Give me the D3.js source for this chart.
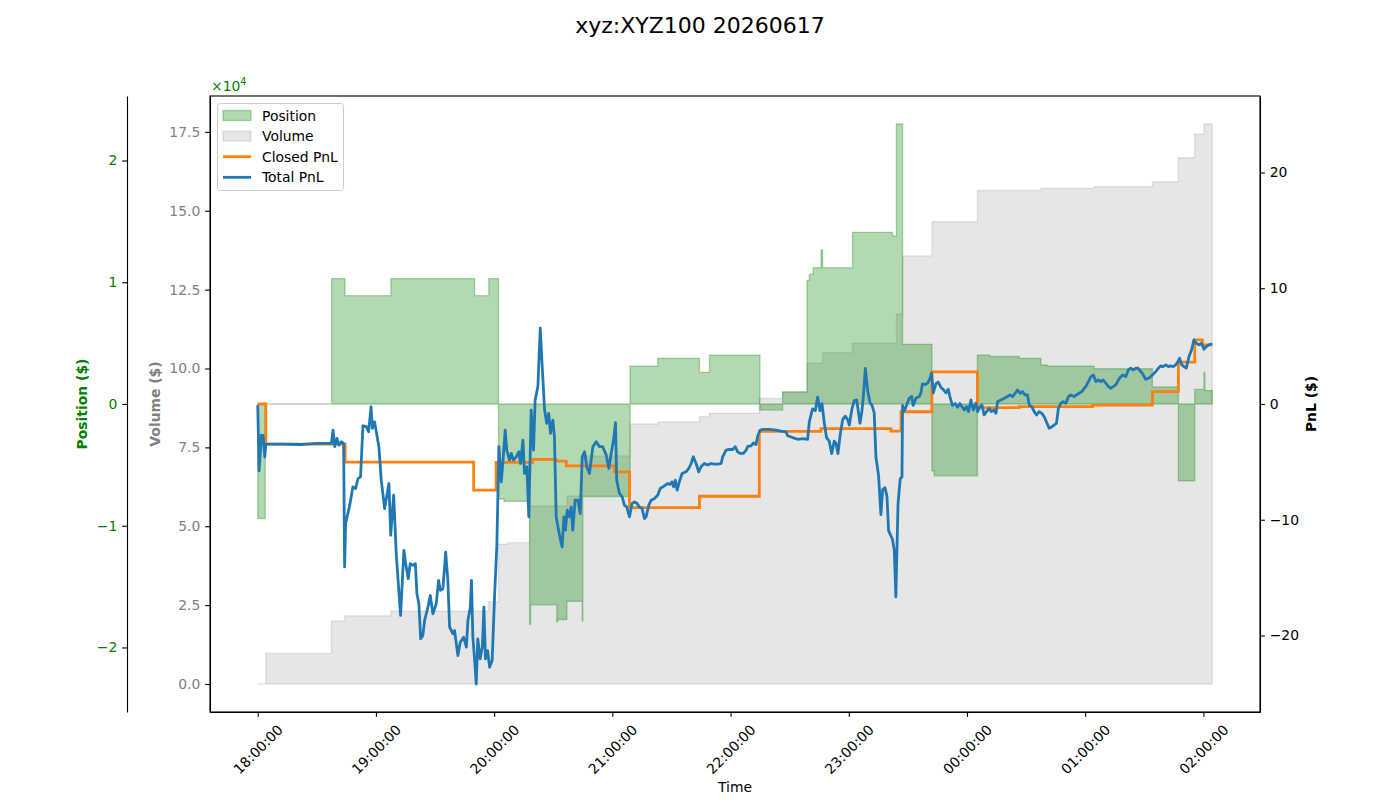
<!DOCTYPE html>
<html>
<head>
<meta charset="utf-8">
<script src="https://cdn.jsdelivr.net/npm/d3@7"></script>
<style>
  body { margin: 0; background: #fff; }
  svg { display: block; font-family: "DejaVu Sans", sans-serif; }
</style>
</head>
<body>
<svg id="chart" width="1400" height="800"></svg>
<script>
// minutes after 18:00 on 2026-06-17
const posMin = [0, 3.8, 37.5, 44.3, 67.6, 110.1, 117.3, 122.2, 125.0, 138.0, 138.5, 151.8, 152.3, 156.9, 164.7, 165.0, 189.0, 203.0, 224.2, 229.3, 254.9, 266.4, 278.8, 280.0, 282.0, 285.9, 286.7, 301.9, 322.2, 324.2, 327.3, 342.2, 343.4, 365.3, 371.8, 386.5, 397.5, 400.8, 424.5, 454.1, 467.3, 475.6, 480.3, 480.7, 484.5];
const posVal = [-9400, 0, 10300, 8900, 10300, 8900, 10300, -7800, -8000, -18100, -16500, -17900, -17700, -16200, -17800, -7600, 3100, 3750, 2600, 4000, -500, 1000, 10150, 10660, 11200, 12650, 11200, 14100, 13800, 23000, 4900, -5500, -5900, 4000, 3900, 3750, 3200, 3100, 2900, 1400, -6300, 1200, 2600, 1100, 1100];

const volMin = [0, 4.1, 37.4, 44.1, 67.6, 117.2, 122.2, 127.0, 138.0, 157.0, 164.7, 189.0, 203.0, 224.2, 229.3, 254.6, 266.4, 278.8, 286.7, 301.9, 324.2, 327.3, 342.2, 365.3, 397.5, 424.5, 454.1, 467.3, 475.6, 480.3, 484.5];
const volVal = [0, 0.97, 2.0, 2.16, 2.31, 2.61, 4.43, 4.48, 5.64, 5.96, 7.23, 8.24, 8.31, 8.47, 8.58, 9.05, 9.25, 10.17, 10.5, 10.8, 11.73, 13.57, 14.65, 15.64, 15.71, 15.76, 15.92, 16.68, 17.43, 17.75, 17.75];

const closedMin = [0, 4.1, 44.4, 109.6, 121.0, 139.6, 151.5, 156.6, 181.1, 188.7, 224.2, 254.6, 285.9, 321.4, 326.5, 342.2, 365.3, 386.5, 423.7, 454.1, 467.3, 475.6, 479.5, 484.5];
const closedVal = [0, -3.46, -5.02, -7.45, -5.05, -4.79, -4.93, -5.34, -5.86, -8.95, -7.97, -2.37, -2.13, -2.34, -0.67, 2.77, -0.32, -0.23, -0.09, 1.07, 3.61, 5.54, 5.11, 5.11];

const totalMin = [0.0, 0.7, 1.9, 2.7, 3.6, 4.1, 12.8, 21.3, 29.8, 37.4, 38.2, 39.1, 40.2, 41.2, 42.4, 43.6, 44.1, 44.6, 46.7, 48.3, 49.7, 50.9, 52.2, 53.4, 55.1, 56.3, 57.5, 58.2, 59.3, 61.5, 62.7, 64.4, 66.6, 67.5, 69.0, 70.3, 72.5, 74.2, 75.1, 76.4, 77.4, 78.8, 80.0, 80.8, 81.8, 82.7, 83.8, 84.7, 86.4, 87.6, 88.9, 90.6, 91.8, 92.7, 94.0, 95.4, 96.5, 97.4, 99.1, 99.9, 101.6, 102.8, 104.5, 105.9, 106.7, 107.9, 108.5, 109.2, 110.1, 110.9, 111.7, 112.9, 114.0, 114.8, 115.6, 116.7, 117.7, 119.0, 120.2, 121.4, 122.4, 123.6, 124.4, 125.6, 126.4, 127.8, 128.7, 129.8, 131.2, 132.5, 133.4, 134.6, 135.4, 136.6, 137.6, 138.8, 140.0, 140.8, 142.2, 143.4, 144.4, 145.6, 146.7, 147.7, 148.6, 149.8, 150.6, 151.5, 152.7, 153.7, 154.5, 155.4, 156.2, 157.1, 158.2, 159.1, 159.9, 161.1, 162.5, 163.7, 164.7, 165.9, 167.0, 168.4, 170.1, 171.8, 173.5, 175.1, 176.9, 178.2, 179.4, 180.6, 181.6, 182.2, 183.6, 185.0, 186.1, 187.3, 188.7, 190.0, 191.2, 192.6, 193.7, 195.1, 196.3, 197.1, 198.5, 199.7, 201.4, 203.0, 204.3, 205.6, 206.9, 208.1, 209.3, 210.3, 211.1, 212.0, 212.9, 214.0, 215.4, 217.4, 218.8, 220.0, 221.1, 222.5, 223.8, 225.0, 226.7, 228.4, 230.1, 231.8, 233.5, 235.2, 236.0, 237.7, 239.4, 241.1, 242.4, 243.6, 244.8, 246.5, 247.9, 248.7, 250.4, 251.6, 252.9, 253.8, 255.0, 256.3, 259.7, 263.1, 265.6, 268.1, 269.0, 271.5, 274.1, 276.6, 279.1, 280.0, 281.6, 283.0, 284.2, 285.4, 286.4, 287.6, 288.7, 290.1, 291.3, 292.6, 293.5, 294.5, 295.7, 296.9, 298.2, 299.4, 300.3, 301.6, 302.8, 304.0, 304.8, 305.7, 306.7, 307.4, 308.4, 309.6, 310.8, 311.8, 312.9, 313.8, 315.1, 316.3, 317.2, 318.4, 319.4, 320.2, 321.4, 322.2, 323.1, 323.9, 325.0, 326.1, 327.0, 327.3, 328.2, 329.0, 330.7, 331.9, 332.7, 334.1, 335.8, 336.6, 337.4, 338.8, 340.0, 341.2, 342.0, 342.9, 344.2, 345.4, 346.8, 347.9, 349.3, 350.5, 351.3, 352.6, 354.0, 355.2, 356.4, 357.4, 358.6, 359.8, 360.8, 362.0, 363.2, 364.5, 365.4, 366.6, 367.6, 368.7, 369.9, 371.3, 372.4, 373.8, 374.7, 375.5, 377.2, 378.9, 380.5, 381.8, 383.1, 384.5, 385.6, 387.0, 388.2, 389.4, 390.7, 391.6, 392.9, 394.1, 395.3, 396.6, 398.0, 399.2, 400.3, 401.7, 403.1, 404.2, 405.4, 406.4, 407.6, 408.8, 410.2, 411.5, 412.7, 414.4, 415.5, 416.9, 418.3, 419.5, 420.3, 421.6, 422.9, 424.2, 425.4, 426.7, 427.9, 429.1, 430.5, 431.8, 433.0, 434.2, 435.5, 436.9, 438.1, 439.2, 440.6, 441.9, 443.1, 444.3, 445.7, 446.8, 448.2, 449.0, 449.9, 450.7, 452.1, 453.3, 454.5, 455.8, 457.1, 458.3, 459.5, 460.9, 462.2, 463.4, 464.7, 465.9, 467.1, 467.9, 469.0, 470.2, 471.3, 472.7, 474.0, 475.2, 476.4, 477.8, 479.0, 480.3, 481.5, 482.8, 484.5];
const totalVal = [-0.1, -5.77, -2.68, -2.7, -4.56, -3.46, -3.46, -3.5, -3.4, -3.4, -2.25, -3.69, -2.97, -3.55, -3.26, -3.4, -14.08, -10.33, -8.74, -7.16, -7.3, -6.44, -6.29, -1.88, -1.96, -2.4, -0.23, -2.1, -1.53, -3.69, -6.58, -9.03, -6.87, -11.34, -7.88, -12.93, -18.27, -12.64, -13.79, -15.09, -13.79, -13.94, -13.79, -16.39, -17.26, -20.29, -20.0, -18.7, -17.55, -16.54, -18.12, -17.26, -15.24, -16.1, -15.96, -12.79, -15.24, -19.28, -19.86, -19.57, -21.73, -20.58, -20.15, -21.01, -18.7, -17.55, -15.24, -20.15, -22.16, -24.19, -20.29, -22.02, -21.01, -17.55, -22.02, -21.3, -22.74, -22.16, -16.68, -12.06, -3.69, -6.72, -5.14, -2.25, -3.98, -4.85, -4.27, -4.85, -4.56, -4.13, -5.14, -3.12, -6.0, -5.43, -9.75, -0.52, -3.98, 0.35, 1.5, 6.55, 3.23, -0.52, -1.67, -0.81, -2.54, -1.39, -2.83, -9.75, -10.9, -11.77, -12.35, -9.75, -10.9, -9.18, -9.75, -8.89, -10.9, -8.31, -8.31, -9.46, -4.56, -4.13, -5.43, -6.0, -3.69, -3.26, -3.69, -3.69, -4.42, -5.57, -4.27, -3.12, -1.62, -6.58, -7.73, -8.02, -8.74, -8.89, -9.75, -8.6, -8.46, -8.6, -8.89, -9.03, -9.9, -9.75, -8.74, -8.31, -8.17, -7.88, -7.3, -7.16, -7.01, -6.87, -6.95, -6.72, -7.16, -6.58, -7.45, -6.72, -6.0, -5.86, -5.57, -5.14, -4.56, -5.14, -5.86, -5.43, -5.14, -5.28, -5.14, -5.2, -5.2, -5.14, -4.56, -3.98, -3.93, -3.93, -3.69, -4.13, -4.27, -4.27, -3.98, -3.67, -3.61, -3.37, -3.51, -2.74, -2.28, -2.19, -2.2, -2.25, -2.34, -2.4, -2.74, -2.9, -3.05, -2.99, -3.05, -1.51, -0.42, -0.58, 0.6, -0.58, 0.04, -1.66, -2.9, -3.21, -4.29, -3.21, -3.37, -4.29, -2.59, -1.35, -1.05, -1.35, -1.82, -0.42, 0.29, 0.35, -0.58, -1.66, -0.58, 0.66, 3.07, 1.12, 0.1, -0.12, -0.74, -4.6, -6.15, -9.55, -7.39, -7.23, -8.0, -10.94, -11.4, -11.71, -12.64, -16.66, -8.62, -6.46, -6.3, -0.12, -0.58, -0.27, 0.5, 0.66, -0.12, 0.5, 0.66, 0.96, 1.74, 1.68, 1.8, 2.2, 2.67, 0.96, 1.74, 1.9, 1.43, 1.27, 0.96, 1.27, 0.66, -0.12, 0.04, -0.27, 0.04, -0.23, -0.52, -0.23, -0.66, 0.35, -0.52, 0.06, -0.66, -0.23, -0.09, -0.95, -0.66, -0.38, -0.66, -0.52, -0.81, 0.2, 0.35, 0.49, 0.64, 0.78, 0.64, 0.93, 1.21, 0.93, 1.07, 0.78, 0.78, -0.09, -0.23, -0.66, -0.95, -0.66, -0.81, -1.1, -1.53, -2.1, -1.96, -1.82, -1.67, -0.38, 0.06, 0.2, 0.06, 0.64, 0.78, 0.64, 0.78, 0.93, 1.07, 1.36, 1.5, 1.93, 2.37, 2.51, 1.93, 2.08, 1.93, 2.08, 1.79, 1.5, 1.36, 1.5, 1.65, 2.08, 2.37, 2.51, 2.37, 2.94, 3.09, 2.94, 3.09, 3.09, 2.8, 2.66, 2.37, 2.14, 2.22, 2.37, 2.57, 2.8, 3.09, 3.29, 3.23, 3.38, 3.23, 3.29, 3.23, 3.38, 3.66, 3.95, 3.38, 3.23, 3.09, 4.1, 4.68, 5.54, 5.25, 5.11, 5.25, 4.73, 4.96, 5.11, 5.19];

const posTicks = [-20000, -10000, 0, 10000, 20000];
const volTicks = [0, 2.5, 5, 7.5, 10, 12.5, 15, 17.5];
const pnlTicks = [-20, -10, 0, 10, 20];

const legendItems = [
  { label: "Position", kind: "patch", fill: "rgba(0,128,0,0.3)" },
  { label: "Volume", kind: "patch", fill: "rgba(128,128,128,0.2)" },
  { label: "Closed PnL", kind: "line", color: "#ff7f0e" },
  { label: "Total PnL", kind: "line", color: "#1f77b4" }
];

const FS = 13.9;
const L = 210, R = 1260, T = 96, B = 712;
const t0 = new Date(2026, 5, 17, 18, 0, 0);
const toDate = m => new Date(t0.getTime() + m * 60000);

const svg = d3.select("#chart");

// Échelle temps, marge 5 %
const mLo = d3.min([posMin[0], volMin[0], closedMin[0], totalMin[0]]);
const mHi = d3.max([posMin.at(-1), volMin.at(-1), closedMin.at(-1), totalMin.at(-1)]);
const pad = (mHi - mLo) * 0.05;
const x = d3.scaleTime().domain([toDate(mLo - pad), toDate(mHi + pad)]).range([L, R]);

const posLim = d3.max(posVal, v => Math.abs(v)) * 1.1;
const yPos = d3.scaleLinear().domain([-posLim, posLim]).range([B, T]);

const vMax = d3.max(volVal);
const yVol = d3.scaleLinear().domain([-vMax * 0.05, vMax * 1.05]).range([B, T]);

const pnlLim = d3.max(closedVal.concat(totalVal), v => Math.abs(v)) * 1.1;
const yPnl = d3.scaleLinear().domain([-pnlLim, pnlLim]).range([B, T]);

// Volume (gris)
const volData = volMin.map((m, i) => ({ t: toDate(m), v: volVal[i] }));
svg.append("path")
  .datum(volData)
  .attr("fill", "rgba(128,128,128,0.2)")
  .attr("stroke", "rgba(128,128,128,0.2)")
  .attr("stroke-width", 1.39)
  .attr("d", d3.area().curve(d3.curveStepAfter)
    .x(d => x(d.t)).y0(yVol(0)).y1(d => yVol(d.v)));

// Position (vert)
const posData = posMin.map((m, i) => ({ t: toDate(m), v: posVal[i] }));
svg.append("path")
  .datum(posData)
  .attr("fill", "rgba(0,128,0,0.3)")
  .attr("stroke", "rgba(0,128,0,0.3)")
  .attr("stroke-width", 1.39)
  .attr("d", d3.area().curve(d3.curveStepAfter)
    .x(d => x(d.t)).y0(yPos(0)).y1(d => yPos(d.v)));

// PnL
const closedData = closedMin.map((m, i) => ({ t: toDate(m), v: closedVal[i] }));
svg.append("path")
  .datum(closedData)
  .attr("fill", "none")
  .attr("stroke", "#ff7f0e")
  .attr("stroke-width", 2.78)
  .attr("d", d3.line().curve(d3.curveStepAfter).x(d => x(d.t)).y(d => yPnl(d.v)));

const totalData = totalMin.map((m, i) => ({ t: toDate(m), v: totalVal[i] }));
svg.append("path")
  .datum(totalData)
  .attr("fill", "none")
  .attr("stroke", "#1f77b4")
  .attr("stroke-width", 2.78)
  .attr("stroke-linejoin", "round")
  .attr("d", d3.line().x(d => x(d.t)).y(d => yPnl(d.v)));

// Cadre
svg.append("rect")
  .attr("x", L).attr("y", T).attr("width", R - L).attr("height", B - T)
  .attr("fill", "none").attr("stroke", "#000").attr("stroke-width", 1.1);

function styleAxis(g, color) {
  g.select(".domain").attr("stroke", "#000").attr("stroke-width", 1.1);
  g.selectAll(".tick line").attr("stroke", "#000").attr("stroke-width", 1.1);
  g.selectAll(".tick text").attr("fill", color).attr("font-size", FS + "px")
    .attr("font-family", "DejaVu Sans, sans-serif");
}

// Axe position (décalé)
svg.append("g")
  .attr("transform", `translate(127,0)`)
  .call(d3.axisLeft(yPos).tickValues(posTicks).tickFormat(d => d3.format("d")(d / 10000))
    .tickSize(4.86).tickSizeOuter(0).tickPadding(4.86))
  .call(g => styleAxis(g, "green"));

// Axe volume
svg.append("g")
  .attr("transform", `translate(${L},0)`)
  .call(d3.axisLeft(yVol).tickValues(volTicks).tickFormat(d3.format(".1f"))
    .tickSize(4.86).tickSizeOuter(0).tickPadding(4.86))
  .call(g => styleAxis(g, "gray"));

// Axe PnL
svg.append("g")
  .attr("transform", `translate(${R},0)`)
  .call(d3.axisRight(yPnl).tickValues(pnlTicks).tickFormat(d3.format("d"))
    .tickSize(4.86).tickSizeOuter(0).tickPadding(4.86))
  .call(g => styleAxis(g, "#000"));

// Axe X
const gx = svg.append("g")
  .attr("transform", `translate(0,${B})`)
  .call(d3.axisBottom(x).ticks(d3.timeHour.every(1)).tickFormat(d3.timeFormat("%H:%M:%S"))
    .tickSize(4.86).tickSizeOuter(0))
  .call(g => styleAxis(g, "#000"));
gx.selectAll(".tick text").each(function() {
  const w = this.getComputedTextLength();
  const h = (w + 16) * 0.7071;
  d3.select(this)
    .attr("x", 0).attr("y", 0).attr("dy", "0.35em")
    .attr("text-anchor", "middle")
    .attr("transform", `translate(0,${9.7 + h / 2}) rotate(-45)`);
});

// Libellés
svg.append("text")
  .attr("x", 700).attr("y", 33).attr("text-anchor", "middle")
  .attr("font-size", "22px").attr("fill", "#000")
  .text("xyz:XYZ100 20260617");

svg.append("text")
  .attr("x", (L + R) / 2).attr("y", 791.5).attr("text-anchor", "middle")
  .attr("font-size", FS + "px").text("Time");

const yLabels = [
  { text: "Position ($)", x: 82, color: "green" },
  { text: "Volume ($)", x: 155, color: "gray" },
  { text: "PnL ($)", x: 1311, color: "#000" }
];
yLabels.forEach(lb => {
  svg.append("text")
    .attr("transform", `translate(${lb.x},${(T + B) / 2}) rotate(-90)`)
    .attr("text-anchor", "middle").attr("dominant-baseline", "central")
    .attr("font-size", FS + "px").attr("font-weight", "bold")
    .attr("fill", lb.color).text(lb.text);
});

// Offset ×10^4
const off = svg.append("text").attr("x", L + 1).attr("y", 91)
  .attr("font-size", FS + "px").attr("fill", "green");
off.append("tspan").text("×10");
off.append("tspan").attr("dy", -6).attr("font-size", "9.7px").text("4");

// Légende
const lg = svg.append("g");
lg.append("rect")
  .attr("x", 217.5).attr("y", 103.5).attr("width", 126).attr("height", 87)
  .attr("rx", 2.8)
  .attr("fill", "rgba(255,255,255,0.8)").attr("stroke", "#cccccc").attr("stroke-width", 1);
legendItems.forEach((it, i) => {
  const cy = 115.5 + i * 20.6;
  if (it.kind === "patch") {
    lg.append("rect").attr("x", 223).attr("y", cy - 5).attr("width", 28).attr("height", 10)
      .attr("fill", it.fill).attr("stroke", it.fill).attr("stroke-width", 1.39);
  } else {
    lg.append("line").attr("x1", 223).attr("x2", 251).attr("y1", cy).attr("y2", cy)
      .attr("stroke", it.color).attr("stroke-width", 2.78);
  }
  lg.append("text").attr("x", 262).attr("y", cy).attr("dominant-baseline", "central")
    .attr("font-size", FS + "px").attr("fill", "#000").text(it.label);
});
</script>
</body>
</html>
